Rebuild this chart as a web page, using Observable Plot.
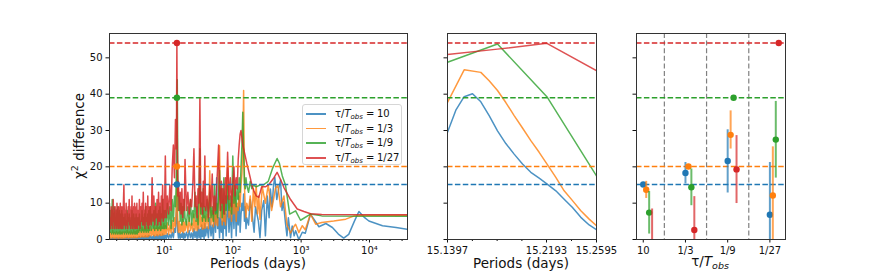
<!DOCTYPE html>
<html><head><meta charset="utf-8">
<script src="https://cdn.jsdelivr.net/npm/d3@7"></script>
<script src="https://cdn.jsdelivr.net/npm/@observablehq/plot@0.6"></script>
<style>
body{margin:0;background:#fff;}
#fig{position:relative;width:872px;height:273px;font-family:"DejaVu Sans",sans-serif;color:#111;overflow:hidden;background:#fff;}
#fig > svg{position:absolute;left:0;top:0;}
.lbl{position:absolute;font-size:13.5px;white-space:nowrap;transform:translate(-50%,-50%);line-height:1;}
.lbl sub{font-size:9.5px;vertical-align:-3px;}
.lbl sup{font-size:9.5px;vertical-align:6px;}
#legend{position:absolute;left:302px;top:104px;width:100px;height:61px;box-sizing:border-box;border:1px solid #d6d6d6;border-radius:3px;background:rgba(255,255,255,0.85);font-size:10px;}
.lrow{position:absolute;left:0;height:14px;width:100%;}
.lline{position:absolute;left:3px;width:20px;top:6px;height:1.6px;opacity:0.8;}
.ltxt{position:absolute;left:32px;top:0;white-space:nowrap;line-height:14px;}
.ltxt sub{font-size:7px;vertical-align:-2px;}
.lval{position:absolute;left:74px;top:0;line-height:14px;}
</style></head>
<body><div id="fig"></div>
<script>
// ---------- data ----------
const seriesLabels = ["10", "1/3", "1/9", "1/27"];
const seriesColors = ["#1f77b4", "#ff7f0e", "#2ca02c", "#d62728"];
const peakPeriod = 15.2;
const peakLevels = [15.15, 20.1, 39.0, 54.1];
const yTicks = [0, 10, 20, 30, 40, 50];

// shared period grid (days) for the dense part of the periodogram
const gridP = [
  1.57,1.63,1.66,1.69,1.72,1.75,1.78,1.81,1.84,1.87,1.90,1.93,1.96,1.99,2.02,2.05,2.08,2.11,2.14,2.17,2.20,2.23,2.26,2.29,2.32,2.35,2.38,2.41,2.44,2.47,2.50,
  2.55,2.6,2.65,2.7,2.75,2.8,2.85,2.9,2.95,3,3.05,3.1,3.15,3.2,3.25,3.3,3.35,3.4,3.45,3.5,3.55,3.6,3.65,3.7,3.75,3.8,3.85,3.9,3.95,4,
  4.1,4.2,4.3,4.4,4.5,4.6,4.7,4.8,4.9,5,5.1,5.2,5.3,5.4,5.5,5.6,5.7,5.8,5.9,6,
  6.2,6.4,6.6,6.8,7,7.2,7.4,7.6,7.8,8,8.2,8.4,8.6,8.8,9,9.2,9.4,9.6,9.8,10,
  10.3,10.6,11,11.5,12,12.5,13,13.5,14,14.5,14.8,15,15.2,15.4,15.7,16,16.5,17,17.5,18,18.5,19,19.5,20,
  21,22,23,24,25,26,27,28,29,30,31,32,33,34,35,36,37,38,39,40,
  42,44,46,48,50,52,54,56,58,60,62,64,66,68,70,72,74,76,78,80,
  84,88,92,96,100,104,108,112,116,120,124,128,132,136,140,144,148,152,156,160
];
const blueGrid = [
  0.1,0.4,0,0.3,0.1,0.5,0,0.2,0.4,0,0.3,0.1,0.5,0,0.2,0.4,0,0.3,0.1,0.5,0,0.2,0.4,0.1,0.3,0,0.5,0.1,0.2,0.4,0,
  0.3,0.1,0.5,0,0.4,0.2,0.6,0,0.3,0.1,0.5,0,0.4,0.2,0.6,0.1,0.3,0,0.5,0.2,0.7,0,0.4,0.1,0.6,0.2,0.3,0,0.5,0.1,
  0.6,0.1,0.8,0,0.5,0.2,0.9,0.1,0.6,0,0.8,0.2,1,0.1,0.7,0,0.9,0.2,1.1,0.1,
  1,0.2,0.8,0,1.2,0.3,0.9,0.1,1.3,0.2,1,0,1.4,0.3,0.9,0.1,1.5,0.2,1.1,0.3,
  1.2,0.2,1.6,0.3,1.4,0.4,2,0.5,3,2,5,8,15.1,6,2,0.4,1.8,0.3,1.5,0.6,2,0.2,1.7,0.5,
  2,0.3,2.5,0.5,1.8,0,3,0.6,2.2,0.2,3.5,0.5,2.8,0,4,0.8,3,0.2,4.5,1,
  3.5,0.5,6,1,4,0,8,2,17,3,6,0.5,9,2,5,0,10,3,7,1,
  12,2,8,0.5,11,3,13,1,9,4,12,2,7,10,8,12.5,5,9,3,6
];
const orangeGrid = [
  0.5,2,0.3,1.5,0.6,2.5,0.4,1.8,0.5,2,0.3,1.6,0.6,2.2,0.4,1.5,0.5,2,0.3,1.7,0.6,2.3,0.4,1.6,0.5,2,0.3,1.8,0.6,2.1,0.4,
  1.8,0.5,2.2,0.4,1.6,0.6,2.5,0.5,1.9,0.4,2.1,0.6,1.7,0.5,2.4,0.4,1.8,0.6,2,0.5,2.6,0.4,1.9,0.6,2.2,0.5,1.7,0.6,2.5,0.5,
  2.5,0.7,3,0.6,2.2,0.8,3.4,0.7,2.6,0.8,3.1,0.6,2.8,0.9,3.5,0.7,2.4,0.8,3.2,1,
  3.5,1,2.8,1.2,3.8,0.9,3.1,1.2,4,1,3.3,1.3,3.6,1.1,4.2,1.2,3.4,1.3,4.5,1.4,
  3.8,1.5,4.6,1.4,3.9,1.8,5.2,2,6,3.5,8,12,20.1,11,4.5,2,5,1.8,4.2,2.2,5.5,1.9,4.8,2.4,
  5,2,6,2.5,4.5,2.2,7,2.6,5.2,2.4,6.5,3,14,3.5,6,2.8,8,3,6.5,3.2,
  7,3,18.9,4,8,3.5,10,4,7,3.8,12,25.8,6,9,4,11,5,8,4,12,
  19.8,6,10,5,14,7,12,5,10,8,13,9,15,18,24,41,15,9,6,10
];
const greenGrid = [
  10,2,8,1.5,11,2,7,1.5,9,2,6,1.5,8,2,7,1.5,9,2,6,1.5,8,2,7,1.5,6,2,8,1.5,7,2,6,
  6,1.5,7,2,5,1.5,8,2,6,1.5,7,2,5,1.5,6,2,8,1.5,6,2,7,1.5,5,2,6,1.5,7,2,6,1.5,
  6,2,7,2.5,5,2,8,2.5,6,2,7,2.5,9,2,6,2.5,7,2,8,2.5,
  9,2.5,7,3,8,2.5,10,3,7,2.5,8,3,9,2.5,7,3,11,3,8,3,
  8,3,10,4,9,3,11,5,12,9,14,20,39,44,18,8,12,5,10,4,9,5,11,6,
  4,9,5,11,4,8,6,13,5,9,4,12,25,7,10,5,14,6,9,5,
  11,5,13,6,9,5,15,7,10,6,12,19,8,14,6,11,17,7,12,8,
  15,8,12,7,23,10,15,9,14,11,17,13,20,26,35,24,16,14,17,15
];
const redGrid = [
  6,3,9,4,8,3,11,5,7,3,9,4,8,3,10,4,7,3,9,5,8,3,10,4,7,3,9,4,8,3,9,
  15,4,8,3,10,4,7,3,9,5,11,4,8,3,9,4,12,3,8,5,9,3,10,4,7,3,9,4,10,3,
  8,4,11,3,9,5,10,4,13,4,8,3,10,5,9,4,12,3,9,4,
  9,4,17,5,12,4,9,6,11,4,13,5,10,4,12,6,15,5,11,6,
  23,6,12,7,15,8,20,26,17,33,25,30,54.1,28,12,16,8,13,7,14,6,11,8,22,
  8,13,7,11,9,15,25,9,12,6,14,10,39,9,13,7,16,9,23,8,
  12,6,15,9,18,7,12,8,14,20,26,13,8,16,10,14,7,12,17,10,
  24,11,17,9,15,20,12,17,14,22,26,29,30,28,26,25,24,23,22,21
];
// long-period tails (period, value)
const blueTailP = [170,180,192,205,215,237,250,265,284,300,320,340,355,375,395,412,440,470,500,525,550,590,620,650,700,740,790,830,925,1040,1150,1370,1820,2300,2870,3500,4200,4970,6000,7000,8500,9800,15500,24500,36000];
const blueTailV = [4,11,7,2,9,5,0.5,8,10.7,1,12,6,13.9,9,15,17.1,11,14,16.4,8,10.3,4.5,1,6,0.5,3.7,1,2.4,0,2,1.7,7,3.5,4.4,3.3,1.5,0.4,1.4,5,7.7,6,5.1,3.8,3.3,2.8];
const orangeTailP = [170,180,190,200,210,220,230,240,250,270,300,330,370,420,455,500,560,620,700,780,830,925,1040,1150,1370,1630,2000,3000,4500,6000,10000,36000];
const orangeTailV = [8,12,5,14,9,15,7,12,5.5,14.5,10,15,8,14,15,9,12,4,1.8,3.5,4.2,1.9,3.8,2.7,7,4.2,4.7,5.1,5.6,6.5,6.6,6.6];
const greenTailP = [170,180,190,200,220,250,280,330,380,445,480,530,590,680,830,980,1370,2000,36000];
const greenTailV = [13,16,14,15,14.5,15,15,16,19.5,22.3,21,17.5,15,7,7.9,5.3,7.0,6.5,6.4];
const redTailP = [170,180,190,203,220,240,265,300,340,400,445,500,560,700,877,1100,1374,2000,36000];
const redTailV = [19,17,15,13.4,12,11.6,14.5,14.5,15.2,17,18.5,16.5,14.3,11,8.4,7.7,7.1,6.9,6.8];

// zoom around the peak
const midBlueP = [15.1397,15.1464,15.1531,15.1598,15.1665,15.1732,15.1799,15.1866,15.1933,15.2000,15.2067,15.2134,15.2196,15.2268,15.2335,15.2402,15.2469,15.2536,15.2595];
const midBlueV = [29.5,35.6,39.3,40.1,37.9,34.1,29.9,26.4,23.5,20.8,18.5,16.9,15.3,13.4,11.1,8.8,6.1,4.0,2.7];
const midOrangeP = [15.1397,15.1531,15.1665,15.1732,15.1799,15.1866,15.1933,15.2000,15.2067,15.2134,15.2196,15.2268,15.2335,15.2402,15.2469,15.2536,15.2595];
const midOrangeV = [37.7,46.7,46.0,43.7,41.0,37.7,34.1,30.7,27.2,24.0,20.8,17.1,13.4,10.7,7.9,5.6,3.8];
const midCoarseP = [15.1397,15.1799,15.2196,15.2595];
const midGreenV = [48.8,53.8,39.3,17.5];
const midRedV = [50.9,52.4,54.0,46.5];
const midMajorTicks = [15.1397, 15.2193, 15.2595];
const midMinorTicks = [15.1597, 15.1796, 15.1995, 15.2394];

// best-fit values per tau/Tobs
const ratioCats = ["10", "1/3", "1/9", "1/27"];
const ratioBlue = [15.15, 18.3, 21.6, 6.8];
const ratioBlueLo = [null, 15.3, 12.8, -7.6];
const ratioBlueHi = [null, 21.2, 30.2, 21.2];
const ratioOrange = [13.7, 20.1, 28.8, 12.1];
const ratioOrangeLo = [11.3, null, 24.9, -1.3];
const ratioOrangeHi = [16.0, null, 35.4, 25.5];
const ratioGreen = [7.4, 14.4, 39.0, 27.5];
const ratioGreenLo = [1.5, 9.3, null, 16.9];
const ratioGreenHi = [13.2, 19.4, null, 38.0];
const ratioRed = [-1.0, 2.6, 19.3, 54.1];
const ratioRedLo = [-10.4, -6.6, 9.9, null];
const ratioRedHi = [8.4, 11.8, 28.6, null];

// ---------- build ----------
const grids = [blueGrid, orangeGrid, greenGrid, redGrid];
const tailP = [blueTailP, orangeTailP, greenTailP, redTailP];
const tailV = [blueTailV, orangeTailV, greenTailV, redTailV];
const leftSeries = grids.map((g, i) => {
  const pts = gridP.map((p, j) => ({p, v: g[j]}));
  tailP[i].forEach((p, j) => pts.push({p, v: tailV[i][j]}));
  return pts;
});
const midSeries = [
  midBlueP.map((p, j) => ({p, v: midBlueV[j]})),
  midOrangeP.map((p, j) => ({p, v: midOrangeV[j]})),
  midCoarseP.map((p, j) => ({p, v: midGreenV[j]})),
  midCoarseP.map((p, j) => ({p, v: midRedV[j]}))
];
const ratioVals = [ratioBlue, ratioOrange, ratioGreen, ratioRed];
const ratioLo = [ratioBlueLo, ratioOrangeLo, ratioGreenLo, ratioRedLo];
const ratioHi = [ratioBlueHi, ratioOrangeHi, ratioGreenHi, ratioRedHi];
const seriesOffset = 0.07;
const ratioSeries = ratioVals.map((vals, i) => vals.map((v, k) => ({x: k + i * seriesOffset, v, lo: ratioLo[i][k], hi: ratioHi[i][k]})));

const logMajor = [10, 100, 1000, 10000];
const logMinor = [];
for (let e = 0; e <= 4; e++) for (let m = 2; m <= 9; m++) { const t = m * 10 ** e; if (t >= 1.57 && t <= 36000) logMinor.push(t); }
const supLabel = {10: "10\u00b9", 100: "10\u00b2", 1000: "10\u00b3", 10000: "10\u2074"};

const dashed = "5.5,2.4";
const common = {
  width: 872, height: 273, marginTop: 33, marginBottom: 34,
  y: {domain: [0, 56.7]},
  style: {background: "transparent", fontFamily: "DejaVu Sans", fontSize: "10px", color: "#111", overflow: "visible"}
};
const levelMarks = () => peakLevels.map((v, i) => Plot.ruleY([v], {stroke: seriesColors[i], strokeWidth: 1.4, strokeDasharray: dashed}));
const yAxis = (show) => Plot.axisY({ticks: yTicks, tickSize: 3.5, tickPadding: 3.5, tickFormat: show ? (d => String(d)) : (() => ""), label: null});
const frame = () => Plot.frame({stroke: "#333", strokeWidth: 1});

const left = Plot.plot({
  ...common, marginLeft: 109, marginRight: 465,
  x: {type: "log", domain: [1.57, 36000]},
  marks: [
    ...leftSeries.map((d, i) => Plot.line(d, {x: "p", y: "v", stroke: seriesColors[i], strokeWidth: 1.5, strokeOpacity: i === 3 ? 0.85 : 0.8, clip: true})),
    ...levelMarks(),
    ...peakLevels.map((v, i) => Plot.dot([v], {x: () => peakPeriod, y: d => d, fill: seriesColors[i], r: 3.2})),
    Plot.axisX({ticks: logMajor, tickSize: 3.5, tickPadding: 3.5, tickFormat: d => supLabel[d], label: null}),
    Plot.axisX({ticks: logMinor, tickSize: 2, tickFormat: () => "", label: null}),
    yAxis(true),
    frame()
  ]
});

const middle = Plot.plot({
  ...common, marginLeft: 447, marginRight: 276,
  x: {domain: [15.1397, 15.2595]},
  marks: [
    ...midSeries.map((d, i) => Plot.line(d, {x: "p", y: "v", stroke: seriesColors[i], strokeWidth: 1.5, strokeOpacity: 0.8, clip: true})),
    ...levelMarks(),
    Plot.axisX({ticks: midMajorTicks, tickSize: 3.5, tickPadding: 3.5, tickFormat: d => d.toFixed(4), label: null}),
    Plot.axisX({ticks: midMinorTicks, tickSize: 2, tickFormat: () => "", label: null}),
    yAxis(false),
    frame()
  ]
});

const right = Plot.plot({
  ...common, marginLeft: 636, marginRight: 87,
  x: {domain: [-0.16, 3.37]},
  marks: [
    Plot.ruleX([0.5, 1.5, 2.5], {stroke: "#808080", strokeWidth: 1.2, strokeDasharray: "5,2.6"}),
    ...levelMarks(),
    ...ratioSeries.flatMap((d, i) => [
      Plot.ruleX(d.filter(e => e.lo != null), {x: "x", y1: "lo", y2: "hi", stroke: seriesColors[i], strokeWidth: 2, strokeOpacity: 0.7, clip: true}),
      Plot.dot(d, {x: "x", y: "v", fill: seriesColors[i], r: 3.2, clip: true})
    ]),
    Plot.axisX({ticks: [0, 1, 2, 3], tickSize: 3.5, tickPadding: 3.5, tickFormat: i => ratioCats[i], label: null}),
    yAxis(false),
    frame()
  ]
});

const fig = document.getElementById("fig");
fig.append(left, middle, right);

function addLabel(html, x, y, rotate) {
  const d = document.createElement("div");
  d.className = "lbl";
  d.innerHTML = html;
  d.style.left = x + "px";
  d.style.top = y + "px";
  if (rotate) d.style.transform = "translate(-50%,-50%) rotate(-90deg)";
  fig.append(d);
}
addLabel("\u03c7<sup>2</sup> difference", 78, 136, true);
addLabel("Periods (days)", 258, 264);
addLabel("Periods (days)", 521, 264);
addLabel("\u03c4/<i>T</i><sub><i>obs</i></sub>", 710, 263);

const legend = document.createElement("div");
legend.id = "legend";
seriesLabels.forEach((s, i) => {
  const row = document.createElement("div");
  row.className = "lrow";
  row.style.top = (2 + i * 14.7) + "px";
  const line = document.createElement("div");
  line.className = "lline";
  line.style.backgroundColor = seriesColors[i];
  row.append(line);
  const txt = document.createElement("div");
  txt.className = "ltxt";
  txt.innerHTML = "\u03c4/<i>T</i><sub><i>obs</i></sub> =";
  row.append(txt);
  const val = document.createElement("div");
  val.className = "lval";
  val.textContent = s;
  row.append(val);
  legend.append(row);
});
fig.append(legend);
</script>
</body></html>
